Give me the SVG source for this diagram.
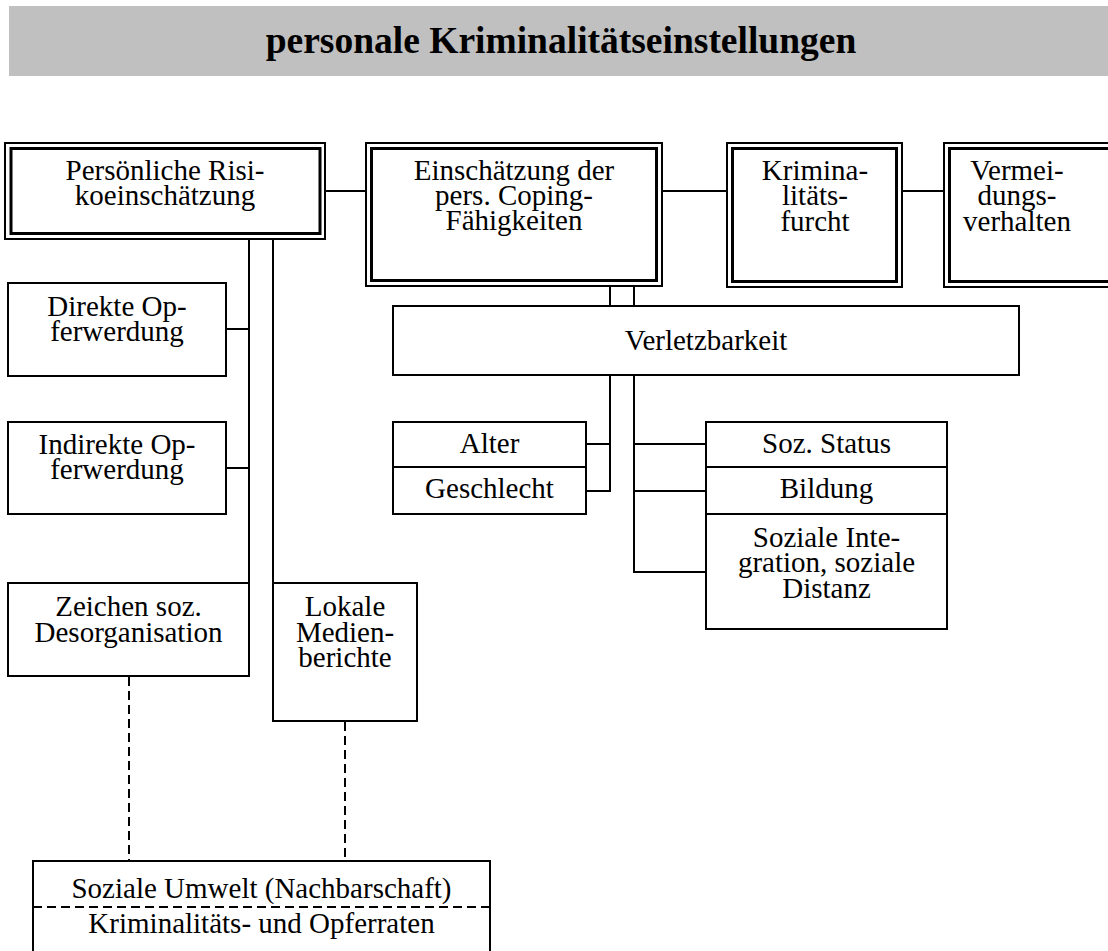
<svg xmlns="http://www.w3.org/2000/svg" width="1108" height="951" viewBox="0 0 1108 951">
  <style>
    .t { font-family: "Liberation Serif", "Times New Roman", serif; font-size: 29px; fill: #000; text-anchor: middle; }
    .title { font-family: "Liberation Serif", "Times New Roman", serif; font-size: 37.5px; font-weight: bold; fill: #000; text-anchor: middle; }
    .box { fill: #fff; stroke: #000; stroke-width: 2; }
    .outer { fill: #fff; stroke: #000; stroke-width: 2; }
    .inner { fill: none; stroke: #000; stroke-width: 3; }
    .ln { fill: none; stroke: #000; stroke-width: 2; }
    .dash { fill: none; stroke: #000; stroke-width: 2; stroke-dasharray: 9 5; }
  </style>

  <!-- heading band -->
  <g id="heading">
    <rect x="9" y="6" width="1100" height="70" fill="#c0c0c0"/>
    <text class="title" x="561" y="53">personale Kriminalitätseinstellungen</text>
  </g>

  <!-- connectors -->
  <g id="connectors">
    <line class="ln" x1="325" y1="191" x2="366" y2="191"/>
    <line class="ln" x1="662" y1="191" x2="727" y2="191"/>
    <line class="ln" x1="902" y1="191" x2="944" y2="191"/>
    <!-- risk appraisal branches -->
    <line class="ln" x1="249" y1="239" x2="249" y2="583"/>
    <line class="ln" x1="273" y1="239" x2="273" y2="583"/>
    <line class="ln" x1="226" y1="329" x2="249" y2="329"/>
    <line class="ln" x1="226" y1="468" x2="249" y2="468"/>
    <!-- coping to vulnerability -->
    <line class="ln" x1="610" y1="286" x2="610" y2="306"/>
    <line class="ln" x1="634" y1="286" x2="634" y2="306"/>
    <!-- vulnerability branches -->
    <polyline class="ln" points="610,375 610,491 586,491"/>
    <line class="ln" x1="586" y1="444" x2="610" y2="444"/>
    <polyline class="ln" points="634,375 634,572 706,572"/>
    <line class="ln" x1="634" y1="444" x2="706" y2="444"/>
    <line class="ln" x1="634" y1="491" x2="706" y2="491"/>
    <!-- neighbourhood links -->
    <line class="dash" x1="129" y1="677" x2="129" y2="861"/>
    <line class="dash" x1="345" y1="722" x2="345" y2="861"/>
  </g>

  <g id="risiko">
    <rect class="outer" x="5" y="143" width="320" height="96"/>
    <rect class="inner" x="11" y="148.5" width="309" height="85"/>
    <text class="t" x="165" y="180">Persönliche Risi-</text>
    <text class="t" x="165" y="205">koeinschätzung</text>
  </g>

  <g id="coping">
    <rect class="outer" x="366" y="143" width="296" height="143"/>
    <rect class="inner" x="371.5" y="148.5" width="285" height="132"/>
    <text class="t" x="514" y="180">Einschätzung der</text>
    <text class="t" x="514" y="205">pers. Coping-</text>
    <text class="t" x="514" y="230">Fähigkeiten</text>
  </g>

  <g id="furcht">
    <rect class="outer" x="727" y="143" width="175" height="144"/>
    <rect class="inner" x="732.5" y="148.5" width="164" height="133"/>
    <text class="t" x="815" y="180">Krimina-</text>
    <text class="t" x="815" y="205">litäts-</text>
    <text class="t" x="815" y="231">furcht</text>
  </g>

  <g id="vermeidung">
    <rect class="outer" x="944" y="143" width="180" height="144"/>
    <rect class="inner" x="949.5" y="148.5" width="169" height="133"/>
    <text class="t" x="1017" y="180">Vermei-</text>
    <text class="t" x="1017" y="205">dungs-</text>
    <text class="t" x="1017" y="231">verhalten</text>
  </g>

  <g id="direkt">
    <rect class="box" x="8" y="283" width="218" height="93"/>
    <text class="t" x="117" y="316">Direkte Op-</text>
    <text class="t" x="117" y="341">ferwerdung</text>
  </g>

  <g id="indirekt">
    <rect class="box" x="8" y="422" width="218" height="92"/>
    <text class="t" x="117" y="454">Indirekte Op-</text>
    <text class="t" x="117" y="479">ferwerdung</text>
  </g>

  <g id="desorganisation">
    <rect class="box" x="8" y="583" width="241" height="93"/>
    <text class="t" x="128.5" y="616">Zeichen soz.</text>
    <text class="t" x="128.5" y="642">Desorganisation</text>
  </g>

  <g id="medien">
    <rect class="box" x="273" y="583" width="144" height="138"/>
    <text class="t" x="345" y="616">Lokale</text>
    <text class="t" x="345" y="642">Medien-</text>
    <text class="t" x="345" y="667">berichte</text>
  </g>

  <g id="verletzbarkeit">
    <rect class="box" x="393" y="306" width="626" height="69"/>
    <text class="t" x="706" y="350">Verletzbarkeit</text>
  </g>

  <g id="alter">
    <rect class="box" x="393" y="422" width="193" height="45"/>
    <text class="t" x="489.5" y="453">Alter</text>
  </g>

  <g id="geschlecht">
    <rect class="box" x="393" y="467" width="193" height="47"/>
    <text class="t" x="489.5" y="498">Geschlecht</text>
  </g>

  <g id="status">
    <rect class="box" x="706" y="422" width="241" height="45"/>
    <text class="t" x="826.5" y="453">Soz. Status</text>
  </g>

  <g id="bildung">
    <rect class="box" x="706" y="467" width="241" height="47"/>
    <text class="t" x="826.5" y="498">Bildung</text>
  </g>

  <g id="integration">
    <rect class="box" x="706" y="514" width="241" height="115"/>
    <text class="t" x="826.5" y="547">Soziale Inte-</text>
    <text class="t" x="826.5" y="572">gration, soziale</text>
    <text class="t" x="826.5" y="598">Distanz</text>
  </g>

  <g id="umwelt">
    <rect class="box" x="33" y="861" width="457" height="110"/>
    <line class="dash" x1="33" y1="907" x2="490" y2="907" stroke-dasharray="8 4"/>
    <text class="t" x="261.5" y="898">Soziale Umwelt (Nachbarschaft)</text>
    <text class="t" x="261.5" y="933">Kriminalitäts- und Opferraten</text>
  </g>
</svg>
